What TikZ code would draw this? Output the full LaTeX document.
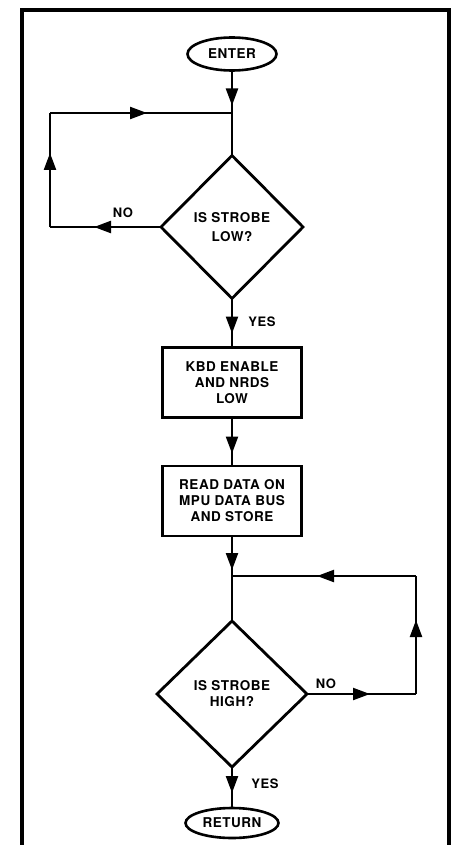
\documentclass[tikz,border=0pt]{standalone}
\usepackage{fontspec}
\setmainfont{TeX Gyre Heros}[LetterSpace=4]
\usetikzlibrary{arrows.meta,decorations.markings,shapes.geometric}
\begin{document}
\begin{tikzpicture}[x=1pt,y=-1pt,
  every node/.style={font=\bfseries\fontsize{13.5}{16}\selectfont,align=center},
  term/.style={ellipse,draw,line width=2.6pt,inner sep=0pt,outer sep=0pt,minimum width=89pt,minimum height=33pt},
  stepbox/.style={rectangle,draw,line width=2.8pt,inner sep=0pt,outer sep=0pt,minimum width=139pt,minimum height=70pt},
  decide/.style={diamond,draw,line width=2.8pt,inner sep=0pt,outer sep=0pt,minimum width=146pt,minimum height=145pt},
  conn/.style={line width=2.2pt},
  arrowat/.style={decoration={markings,mark=at position #1 with {\arrow{Triangle[length=17pt,width=12pt]}}},postaction={decorate}},
  lbl/.style={font=\bfseries\fontsize{13}{15}\selectfont},
  frame/.style={line width=4.5pt}]
\useasboundingbox (0,0) rectangle (459,845);
% frame
\draw[frame] (22,847) -- (22,10) -- (449,10) -- (449,847);
% nodes
\node[term] (enter) at (232,54) {ENTER};
\coordinate (j1) at (232,113);
\node[decide,minimum width=142pt,minimum height=143pt] (d1) at (232,227) {IS STROBE\\[3pt]LOW?};
\node[stepbox] (b1) at (232,382.5) {KBD ENABLE\\AND NRDS\\LOW};
\node[stepbox] (b2) at (232,501) {READ DATA ON\\MPU DATA BUS\\AND STORE};
\coordinate (j2) at (232,576);
\node[decide,minimum width=150pt,minimum height=146pt] (d2) at (232,694) {IS STROBE\\HIGH?};
\node[term,minimum width=93pt,minimum height=30pt] (ret) at (232,823) {RETURN};
\coordinate (l1) at (50,227);
\coordinate (l2) at (50,113);
\coordinate (r1) at (416,694);
\coordinate (r2) at (416,576);
% connectors
\draw[conn,arrowat=35pt] (enter.south) -- (j1);
\draw[conn] (j1) -- (d1.north);
\draw[conn,arrowat=67pt] (d1.west) -- (l1);
\draw[conn,arrowat=74pt] (l1) -- (l2);
\draw[conn,arrowat=97pt] (l2) -- (j1);
\draw[conn,arrowat=35pt] (d1.south) -- (b1.north);
\draw[conn,arrowat=36pt] (b1.south) -- (b2.north);
\draw[conn,arrowat=34pt] (b2.south) -- (j2);
\draw[conn] (j2) -- (d2.north);
\draw[conn,arrowat=63pt] (d2.east) -- (r1);
\draw[conn,arrowat=74pt] (r1) -- (r2);
\draw[conn,arrowat=99pt] (r2) -- (j2);
\draw[conn,arrowat=26pt] (d2.south) -- (ret.north);
% labels
\node[lbl] (no1) at (123,213) {NO};
\node[lbl] (yes1) at (262,322) {YES};
\node[lbl] (no2) at (326,684) {NO};
\node[lbl] (yes2) at (265,784) {YES};
\end{tikzpicture}
\end{document}
